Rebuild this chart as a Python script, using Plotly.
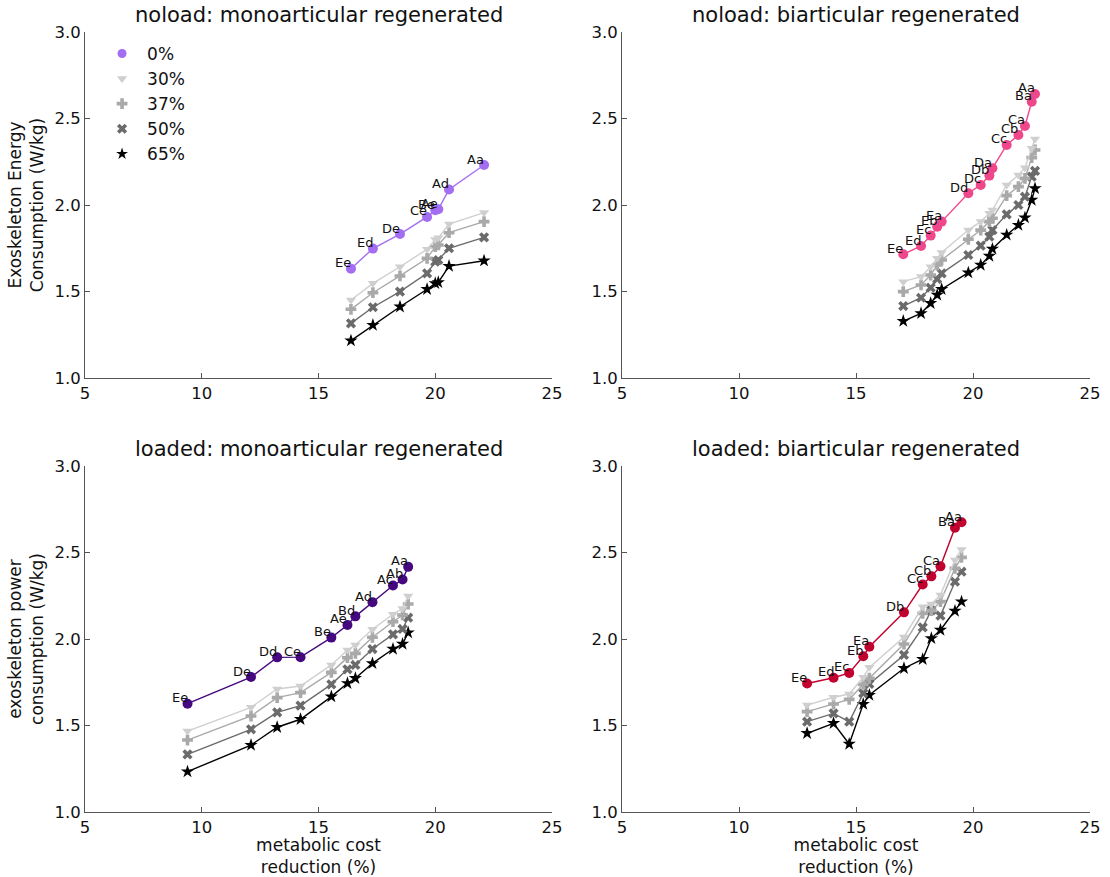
import plotly.graph_objects as go

# ---------------- data ----------------
series_names = ["0%", "30%", "37%", "50%", "65%"]

# noload: monoarticular regenerated
nm_x = [16.39, 17.33, 18.49, 19.65, 20.00, 20.13, 20.59, 22.09]
nm_labels = ["Ee", "Ed", "De", "Ce", "Be", "Ae", "Ad", "Aa"]
nm_y = {
    "0%":  [1.632, 1.748, 1.832, 1.931, 1.970, 1.975, 2.090, 2.231],
    "30%": [1.451, 1.547, 1.643, 1.744, 1.800, 1.810, 1.890, 1.956],
    "37%": [1.397, 1.493, 1.590, 1.692, 1.759, 1.769, 1.840, 1.904],
    "50%": [1.316, 1.409, 1.499, 1.605, 1.672, 1.682, 1.750, 1.813],
    "65%": [1.216, 1.306, 1.412, 1.513, 1.547, 1.553, 1.647, 1.678],
}

# noload: biarticular regenerated
nb_x = [17.02, 17.78, 18.19, 18.47, 18.66, 19.80, 20.33, 20.70, 20.83, 21.44, 21.94, 22.22, 22.51, 22.65]
nb_labels = ["Ee", "Ed", "Ec", "Eb", "Ea", "Dd", "Dc", "Db", "Da", "Cc", "Cb", "Ca", "Ba", "Aa"]
nb_y = {
    "0%":  [1.715, 1.763, 1.823, 1.875, 1.904, 2.068, 2.116, 2.170, 2.212, 2.347, 2.405, 2.457, 2.597, 2.642],
    "30%": [1.557, 1.586, 1.643, 1.692, 1.726, 1.855, 1.904, 1.952, 1.971, 2.116, 2.173, 2.216, 2.328, 2.382],
    "37%": [1.499, 1.538, 1.595, 1.653, 1.682, 1.802, 1.855, 1.904, 1.923, 2.054, 2.106, 2.154, 2.274, 2.318],
    "50%": [1.416, 1.464, 1.522, 1.572, 1.605, 1.711, 1.765, 1.817, 1.855, 1.946, 2.000, 2.048, 2.164, 2.197],
    "65%": [1.329, 1.374, 1.432, 1.480, 1.513, 1.609, 1.653, 1.705, 1.746, 1.827, 1.884, 1.927, 2.029, 2.096],
}

# loaded: monoarticular regenerated
lm_x = [9.39, 12.11, 13.23, 14.23, 15.55, 16.24, 16.58, 17.31, 18.19, 18.60, 18.84]
lm_labels = ["Ee", "De", "Dd", "Ce", "Be", "Ae", "Bd", "Ad", "Ac", "Ab", "Aa"]
lm_y = {
    "0%":  [1.626, 1.780, 1.894, 1.895, 2.008, 2.081, 2.131, 2.213, 2.309, 2.344, 2.417],
    "30%": [1.468, 1.605, 1.711, 1.728, 1.850, 1.936, 1.965, 2.056, 2.143, 2.177, 2.249],
    "37%": [1.416, 1.555, 1.661, 1.690, 1.807, 1.892, 1.917, 2.010, 2.100, 2.139, 2.202],
    "50%": [1.333, 1.478, 1.576, 1.615, 1.738, 1.825, 1.850, 1.942, 2.027, 2.058, 2.123],
    "65%": [1.233, 1.387, 1.490, 1.536, 1.667, 1.744, 1.773, 1.859, 1.942, 1.971, 2.037],
}

# loaded: biarticular regenerated
lb_x = [12.91, 14.04, 14.71, 15.31, 15.57, 17.05, 17.85, 18.22, 18.61, 19.23, 19.51]
lb_labels = ["Ee", "Ed", "Ec", "Eb", "Ea", "Db", "Cc", "Cb", "Ca", "Ba", "Aa"]
lb_y = {
    "0%":  [1.743, 1.776, 1.804, 1.900, 1.955, 2.154, 2.315, 2.362, 2.420, 2.643, 2.675],
    "30%": [1.618, 1.663, 1.682, 1.779, 1.836, 2.012, 2.187, 2.202, 2.254, 2.457, 2.518],
    "37%": [1.580, 1.624, 1.651, 1.738, 1.773, 1.971, 2.148, 2.164, 2.216, 2.408, 2.472],
    "50%": [1.522, 1.570, 1.522, 1.686, 1.740, 1.908, 2.067, 2.166, 2.135, 2.331, 2.389],
    "65%": [1.455, 1.513, 1.393, 1.624, 1.676, 1.831, 1.883, 2.004, 2.052, 2.162, 2.216],
}

titles = ["noload: monoarticular regenerated", "noload: biarticular regenerated",
          "loaded: monoarticular regenerated", "loaded: biarticular regenerated"]

x_ticks = [5, 10, 15, 20, 25]
y_ticks = [1.0, 1.5, 2.0, 2.5, 3.0]

# ---------------- styles ----------------
FONT = "DejaVu Sans"
gray_colors = {"30%": "#cfcfcf", "37%": "#a9a9a9", "50%": "#6b6b6b", "65%": "#000000"}
symbols = {"0%": "circle", "30%": "triangle-down", "37%": "cross", "50%": "x", "65%": "star"}
top_colors = ["#a36ef2", "#f0478a", "#45087f", "#c1022e"]

panels = [
    (nm_x, nm_y, nm_labels, "x", "y"),
    (nb_x, nb_y, nb_labels, "x2", "y2"),
    (lm_x, lm_y, lm_labels, "x3", "y3"),
    (lb_x, lb_y, lb_labels, "x4", "y4"),
]

fig = go.Figure()
annots = []

for pi, (xs, ys, labels, xa, ya) in enumerate(panels):
    for name in series_names[::-1]:
        if name == "0%":
            color = top_colors[pi]
            fig.add_trace(go.Scatter(
                x=xs, y=ys[name], mode="lines+markers",
                line=dict(color=color, width=1.4),
                marker=dict(symbol="circle", size=10, color=color),
                xaxis=xa, yaxis=ya, showlegend=False, cliponaxis=False,
            ))
            for xv, yv, lab in zip(xs, ys[name], labels):
                annots.append(dict(text=lab, x=xv, y=yv, xref=xa, yref=ya,
                                   xanchor="right", yanchor="middle",
                                   xshift=2, yshift=6, showarrow=False,
                                   font=dict(family=FONT, size=13, color="#111")))
        else:
            color = gray_colors[name]
            fig.add_trace(go.Scatter(
                x=xs, y=ys[name], mode="lines+markers",
                line=dict(color=color, width=1.4),
                marker=dict(symbol=symbols[name], size=9 if name != "65%" else 10,
                            color=color, line=dict(width=0)),
                xaxis=xa, yaxis=ya, showlegend=False, cliponaxis=False,
            ))

# legend-only entries
legend_colors = {"0%": top_colors[0], **gray_colors}
for i, name in enumerate(series_names):
    fig.add_trace(go.Scatter(
        x=[None], y=[None], mode="markers", name=name, legendgroup=name,
        marker=dict(symbol=symbols[name], size=9, color=legend_colors[name], line=dict(width=0)),
        xaxis="x", yaxis="y", showlegend=True,
    ))

# ---------------- layout ----------------
L, R, T, B = 85, 20, 32, 65
W, H = 1110, 877
pw, ph = W - L - R, H - T - B
xdom_left = [0, (552 - L) / pw]
xdom_right = [(622 - L) / pw, 1.0]
ydom_top = [(H - B - 378) / ph, 1.0]
ydom_bot = [0, (H - B - 466) / ph]

TICKFONT = dict(family=FONT, size=16.5, color="#111")
TITLEFONT = dict(family=FONT, size=17, color="#111")

def xaxis(dom, anchor, title=None):
    return dict(domain=dom, anchor=anchor, range=[5, 25], tickvals=x_ticks,
                ticktext=[str(v) for v in x_ticks],
                ticks="inside", ticklen=5, tickcolor="#555", showline=True,
                linecolor="#555", linewidth=1, showgrid=False, zeroline=False,
                tickfont=TICKFONT,
                title=dict(text=title, font=TITLEFONT, standoff=6) if title else None)

def yaxis(dom, anchor, title=None):
    return dict(domain=dom, anchor=anchor, range=[1, 3], tickvals=y_ticks,
                ticktext=[f"{v:.1f}" for v in y_ticks],
                ticks="inside", ticklen=5, tickcolor="#555", showline=True,
                linecolor="#555", linewidth=1, showgrid=False, zeroline=False,
                tickfont=TICKFONT,
                title=dict(text=title, font=TITLEFONT, standoff=6) if title else None)

fig.update_layout(
    width=W, height=H,
    margin=dict(l=L, r=R, t=T, b=B, autoexpand=False),
    paper_bgcolor="white", plot_bgcolor="white",
    font=dict(family=FONT, color="#111"),
    xaxis=xaxis(xdom_left, "y"),
    yaxis=yaxis(ydom_top, "x", "Exoskeleton Energy<br>Consumption (W/kg)"),
    xaxis2=xaxis(xdom_right, "y2"),
    yaxis2=yaxis(ydom_top, "x2"),
    xaxis3=xaxis(xdom_left, "y3", "metabolic cost<br>reduction (%)"),
    yaxis3=yaxis(ydom_bot, "x3", "exoskeleton power<br>consumption (W/kg)"),
    xaxis4=xaxis(xdom_right, "y4", "metabolic cost<br>reduction (%)"),
    yaxis4=yaxis(ydom_bot, "x4"),
    legend=dict(x=0.012, y=0.995, xanchor="left", yanchor="top",
                font=dict(family=FONT, size=17, color="#111"),
                bgcolor="rgba(0,0,0,0)", tracegroupgap=0, itemwidth=40),
    showlegend=True,
)

centers = [(xdom_left[0] + xdom_left[1]) / 2, (xdom_right[0] + xdom_right[1]) / 2]
for i, t in enumerate(titles):
    cx = centers[i % 2]
    ytop = ydom_top[1] if i < 2 else ydom_bot[1]
    annots.append(dict(text=t, x=cx, y=ytop, xref="paper", yref="paper",
                       xanchor="center", yanchor="bottom", yshift=3, showarrow=False,
                       font=dict(family=FONT, size=21, color="#111")))
fig.update_layout(annotations=annots)

fig.write_html("out.html")
